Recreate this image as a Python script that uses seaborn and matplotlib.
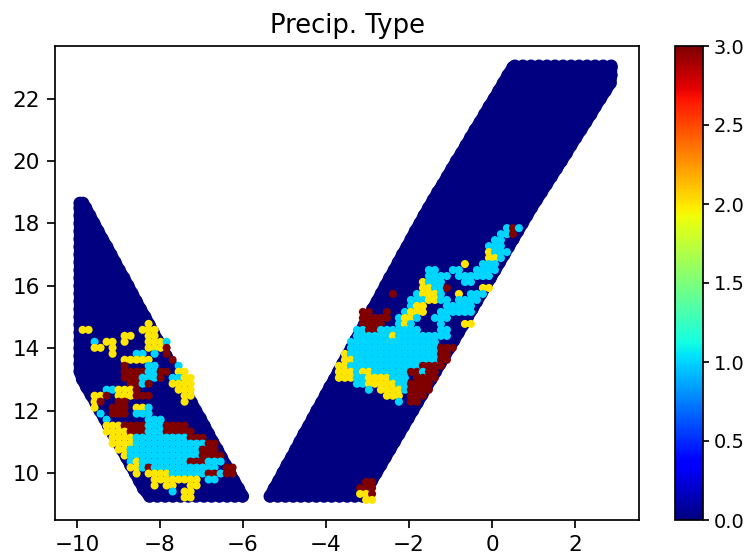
import numpy as np
import pandas as pd
import matplotlib
matplotlib.use("Agg")
import matplotlib.pyplot as plt
from matplotlib.cm import ScalarMappable
from matplotlib.colors import Normalize
import seaborn as sns

TITLE = "Precip. Type"
X_TICKS = [-10, -8, -6, -4, -2, 0, 2]
Y_TICKS = [10, 12, 14, 16, 18, 20, 22]
CBAR_TICKS = [0.0, 0.5, 1.0, 1.5, 2.0, 2.5, 3.0]

# Swath outlines read row by row: latitude, west and east limit
LEFT_Y = [9.25, 9.5, 9.75, 10, 10.25, 10.5, 10.75, 11, 11.25, 11.5, 11.75, 12, 12.25,
          12.5, 12.75, 13, 13.25, 13.5, 13.75, 14, 14.25, 14.5, 14.75, 15, 15.25, 15.5,
          15.75, 16, 16.25, 16.5, 16.75, 17, 17.25, 17.5, 17.75, 18, 18.25, 18.5, 18.65]
LEFT_W = [-8.25, -8.40, -8.50, -8.60, -8.71, -8.81, -8.92, -9.03, -9.13, -9.24, -9.34,
          -9.45, -9.55, -9.66, -9.77, -9.87, -9.93, -9.93, -9.93, -9.93, -9.93, -9.93,
          -9.93, -9.93, -9.93, -9.93, -9.93, -9.93, -9.93, -9.93, -9.93, -9.93, -9.93,
          -9.93, -9.93, -9.93, -9.93, -9.93, -9.93]
LEFT_E = [-6.01, -6.11, -6.22, -6.32, -6.42, -6.52, -6.62, -6.73, -6.83, -6.93, -7.03,
          -7.14, -7.24, -7.34, -7.44, -7.55, -7.65, -7.75, -7.85, -7.95, -8.06, -8.16,
          -8.26, -8.36, -8.47, -8.57, -8.67, -8.77, -8.87, -8.98, -9.08, -9.18, -9.28,
          -9.39, -9.49, -9.59, -9.69, -9.79, -9.86]

RIGHT_Y = [9.25, 9.5, 9.75, 10, 10.25, 10.5, 10.75, 11, 11.25, 11.5, 11.75, 12, 12.25,
           12.5, 12.75, 13, 13.25, 13.5, 13.75, 14, 14.25, 14.5, 14.75, 15, 15.25, 15.5,
           15.75, 16, 16.25, 16.5, 16.75, 17, 17.25, 17.5, 17.75, 18, 18.25, 18.5, 18.75,
           19, 19.25, 19.5, 19.75, 20, 20.25, 20.5, 20.75, 21, 21.25, 21.5, 21.75, 22,
           22.25, 22.5, 22.75, 23, 23.05]
RIGHT_W = [-5.35, -5.25, -5.14, -5.04, -4.94, -4.83, -4.73, -4.63, -4.53, -4.42, -4.32,
           -4.22, -4.11, -4.01, -3.91, -3.80, -3.70, -3.60, -3.50, -3.39, -3.29, -3.19,
           -3.08, -2.98, -2.88, -2.77, -2.67, -2.57, -2.47, -2.36, -2.26, -2.16, -2.05,
           -1.95, -1.85, -1.74, -1.64, -1.53, -1.42, -1.31, -1.19, -1.08, -0.97, -0.86,
           -0.74, -0.63, -0.52, -0.41, -0.29, -0.18, -0.07, 0.05, 0.16, 0.27, 0.38, 0.50,
           0.55]
RIGHT_E = [-3.12, -3.01, -2.90, -2.79, -2.68, -2.57, -2.46, -2.35, -2.24, -2.13, -2.02,
           -1.91, -1.80, -1.69, -1.58, -1.47, -1.36, -1.25, -1.14, -1.03, -0.92, -0.81,
           -0.70, -0.59, -0.48, -0.37, -0.26, -0.15, -0.04, 0.07, 0.18, 0.29, 0.40, 0.51,
           0.62, 0.73, 0.84, 0.95, 1.07, 1.19, 1.31, 1.43, 1.55, 1.67, 1.79, 1.90, 2.02,
           2.14, 2.26, 2.38, 2.49, 2.61, 2.73, 2.85, 2.87, 2.87, 2.87]

# Precipitation cells: "column:classes", c=1, y=2, r=3
LEFT_CELLS = [
    "12:y", "1:yy 11:yyy", "8:yy 12:yy", "3:c 5:yy 8:y 12:yyyc", "3:yy 6:y 12:yyyr",
    "6:y 10:cc 13:c 15:r", "8:yyyyy 16:r", "8:r 12:cc 17:c", "8:rrrrccrr 17:yy",
    "8:rrrcccr 16:ccyy", "9:rrcr 16:yyyy", "5:ccyyyr 17:yyy", "3:yyr 7:yyyrrr 18:yy",
    "3:yr 7:rr 18:y", "3:y 6:rrr 10:yyc", "4:c 6:rrr 10:ccc", "5:c 12:ccc",
    "5:yyyrrrrcccrrrr", "5:yyyyrrrcccrrrrr", "6:yyyycccccccccrrr",
    "6:yyyyccccccccccccrr", "7:yyccccccccccccrrr", "8:yccccccccccccrrrr",
    "9:cyccccccccrrrccc", "9:yycrccccccccccc 25:rr", "10:y 12:yyyyccccccrrcrr",
    "13:yyyyyyyy 22:cc", "13:y 15:yy 19:yy", "16:c 18:yy", "18:yy",
]
RIGHT_CELLS = [
    "30:crc", "29:ccr", "28:cc", "27:ccc", "27:yccc", "27:yyc", "23:y 26:ccc",
    "17:cc 21:cc 25:cccc", "17:cccc 22:cc 24:cccc", "16:yccc 23:cc", "16:yyccr 26:yy",
    "11:r 15:cyyyc 22:y 24:ccc", "14:cccyycc 22:cccc", "14:cyy 20:ccccc",
    "6:rr 10:r 13:cyyy 19:cccccc", "6:rrrrr 12:cyyc 18:ccc", "6:rrrr 12:cyc 19:c 23:yy",
    "5:cc 7:rr 9:cccccc 15:c 19:cc", "5:ccccccyccccccccc", "4:ccccccccccccccc",
    "4:cccccccccccccccrrr", "3:yccccccccccccccc 19:rr", "3:yycccccccccccccc 19:rr",
    "2:yyccccccccccccrrrr", "2:yyycyycccccc 14:rrcrr", "2:yyyccyyyyccc 15:rrrr",
    "5:ccyyyyyccrrrr", "7:c 9:yyyyc 14:rrrr", "10:yyy 14:rrr", "12:c 14:rr",
]
CORNER_CELLS = ["1:rr", "0:rrr", "0:yyr", "1:yy"]

# Where each cell table starts, and its cell size
LEFT_ORIGIN = (-10.01, 14.78)
RIGHT_ORIGIN = (-3.98, 17.85)
CORNER_ORIGIN = (-3.18, 9.71)
CELL_DX, CELL_DY = 0.1446, 0.192
CODES = {"c": 1, "y": 2, "r": 3}


def swath_rows(ys, west, east):
    xs, lat = [], []
    for y, w, e in zip(ys, west, east):
        n = int(np.ceil((e - w) / 0.2)) + 1
        xs.extend(np.linspace(w, e, max(n, 2)))
        lat.extend([y] * max(n, 2))
    return pd.DataFrame({"lon": xs, "lat": lat, "type": 0.0})


def cell_rows(rows, origin):
    recs = []
    for r, row in enumerate(rows):
        for token in row.split():
            start, chars = token.split(":")
            for i, ch in enumerate(chars):
                recs.append((origin[0] + (int(start) + i) * CELL_DX,
                             origin[1] - r * CELL_DY, float(CODES[ch])))
    return pd.DataFrame(recs, columns=["lon", "lat", "type"])


W, H = 749, 556
DPI = 155
fig = plt.figure(figsize=(W / DPI, H / DPI), dpi=DPI)
ax = fig.add_axes([55 / W, 1 - 520 / H, (639 - 55) / W, (520 - 46) / H])
cax = fig.add_axes([675 / W, 1 - 520 / H, (703 - 675) / W, (520 - 46) / H])

jet = plt.get_cmap("jet")
norm = Normalize(0, 3)
base = pd.concat([swath_rows(LEFT_Y, LEFT_W, LEFT_E),
                  swath_rows(RIGHT_Y, RIGHT_W, RIGHT_E)], ignore_index=True)
cells = pd.concat([cell_rows(LEFT_CELLS, LEFT_ORIGIN),
                   cell_rows(RIGHT_CELLS, RIGHT_ORIGIN),
                   cell_rows(CORNER_CELLS, CORNER_ORIGIN)], ignore_index=True)

# The swath limits, drawn as thick strokes so the long edges stay smooth
for xs, ys in [(LEFT_W, LEFT_Y), (LEFT_E, LEFT_Y), (RIGHT_W, RIGHT_Y), (RIGHT_E, RIGHT_Y)]:
    sns.lineplot(x=xs, y=ys, orient="y", sort=False, estimator=None, color=jet(0.0),
                 linewidth=5.6, solid_capstyle="round", legend=False, zorder=0.5, ax=ax)

sns.scatterplot(data=base, x="lon", y="lat", hue="type", palette=jet, hue_norm=norm,
                s=36, linewidth=0, legend=False, zorder=1, ax=ax)
sns.scatterplot(data=cells, x="lon", y="lat", hue="type", palette=jet, hue_norm=norm,
                s=14, linewidth=0, legend=False, zorder=2, ax=ax)

ax.set_xlim(-10.53, 3.54)
ax.set_ylim(8.49, 23.69)
ax.set_xticks(X_TICKS)
ax.set_yticks(Y_TICKS)
ax.set_xlabel("")
ax.set_ylabel("")
ax.set_title(TITLE, fontsize=12)
ax.tick_params(labelsize=10)

cb = fig.colorbar(ScalarMappable(norm=norm, cmap=jet), cax=cax)
cb.set_ticks(CBAR_TICKS)
cb.ax.tick_params(labelsize=9, length=3, pad=2)

fig.savefig("out.png", dpi=DPI)
